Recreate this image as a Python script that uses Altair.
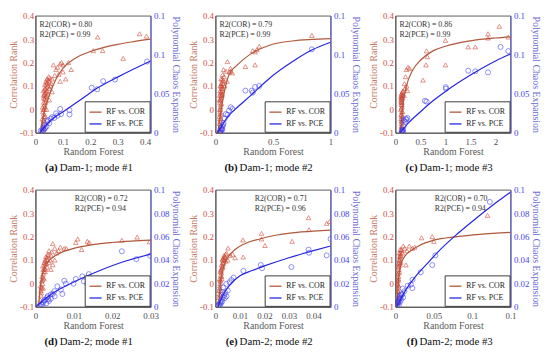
import altair as alt
import pandas as pd

SERIF = "Liberation Serif"
W, H = 117, 119

TRI_COLOR = "#cc3f2c"
CIRC_COLOR = "#3a3af0"
COR_LINE = "#b0583a"
PCE_LINE = "#2525e0"
LEFT_LABEL = "#d04c42"
LEFT_TITLE = "#c47a64"
RIGHT_LABEL = "#4545e8"
RIGHT_TITLE = "#6a6ad8"

SERIES = ["RF vs. COR", "RF vs. PCE"]
LEFT_TICKS = [-0.1, 0, 0.1, 0.2, 0.3, 0.4]
RIGHT_TICKS_TOP = [0, 0.05, 0.1, 0.15]
RIGHT_TICKS_BOTTOM = [0, 0.02, 0.04, 0.06, 0.08, 0.1]

# ---------------- (a) Dam-1; mode #1 ----------------
A_XTICKS = [0, 0.1, 0.2, 0.3, 0.4]
A_COR = [(0.38, 0.323), (0.405, 0.313), (0.227, 0.309), (0.211, 0.251), (0.245, 0.251), (0.32, 0.218),
         (0.065, 0.19), (0.08, 0.18), (0.09, 0.195), (0.095, 0.2), (0.1, 0.19), (0.12, 0.2), (0.13, 0.17),
         (0.075, 0.17), (0.1, 0.16), (0.11, 0.13), (0.085, 0.15), (0.09, 0.12), (0.07, 0.145), (0.06, 0.13),
         (0.06, 0.075), (0.05, 0.12), (0.045, 0.1), (0.04, 0.11), (0.05, 0.09), (0.042, 0.08), (0.035, 0.07),
         (0.04, 0.06), (0.038, 0.04), (0.03, 0.05), (0.033, 0.02), (0.028, 0.0), (0.03, -0.02), (0.025, -0.04),
         (0.027, -0.06), (0.03, 0.03), (0.035, 0.09), (0.045, 0.065), (0.05, 0.04), (0.032, -0.08),
         (0.026, 0.01), (0.04, 0.0), (0.036, -0.03), (0.029, 0.08), (0.055, 0.1), (0.048, 0.14), (0.038, 0.12),
         (0.034, 0.105), (0.042, 0.13), (0.031, 0.065), (0.027, -0.01), (0.029, -0.045), (0.033, 0.045),
         (0.026, -0.09), (0.028, -0.07), (0.03, -0.05), (0.031, -0.03), (0.032, 0.0), (0.034, 0.01),
         (0.036, 0.03), (0.037, 0.055), (0.039, 0.075), (0.041, 0.095), (0.043, 0.115), (0.046, 0.125),
         (0.052, 0.135), (0.058, 0.11), (0.034, 0.085), (0.03, 0.06)]
A_PCE = [(0.407, 0.0913), (0.29, 0.0683), (0.247, 0.0662), (0.205, 0.0578), (0.225, 0.0557), (0.09, 0.0306),
         (0.124, 0.029), (0.124, 0.0235), (0.093, 0.024), (0.068, 0.019), (0.056, 0.018), (0.043, 0.0138),
         (0.033, 0.0096), (0.025, 0.0055), (0.019, 0.0025), (0.08, 0.022), (0.05, 0.012), (0.04, 0.008),
         (0.03, 0.004), (0.022, 0.001), (0.028, 0.002), (0.035, 0.006), (0.045, 0.016), (0.06, 0.02), (0.075, 0.025)]
A_COR_FIT = [(0.018, -0.1), (0.03, -0.02), (0.05, 0.06), (0.075, 0.13), (0.1, 0.175), (0.15, 0.222),
             (0.2, 0.247), (0.25, 0.265), (0.3, 0.278), (0.35, 0.288), (0.42, 0.3)]
A_PCE_FIT = [(0.016, 0.0), (0.056, 0.016), (0.105, 0.028), (0.167, 0.043), (0.229, 0.058), (0.303, 0.072),
             (0.42, 0.092)]

# ---------------- (b) Dam-1; mode #2 ----------------
B_XTICKS = [0, 0.5, 1]
B_COR = [(0.837, 0.316), (0.38, 0.27), (0.324, 0.251), (0.344, 0.246), (0.36, 0.255), (0.344, 0.19),
         (0.26, 0.183), (0.104, 0.204), (0.132, 0.163), (0.146, 0.156), (0.12, 0.16), (0.09, 0.163),
         (0.062, 0.149), (0.07, 0.17), (0.13, 0.175), (0.1, 0.12), (0.08, 0.1), (0.06, 0.12), (0.05, 0.1),
         (0.055, 0.08), (0.045, 0.07), (0.05, 0.05), (0.04, 0.03), (0.045, 0.01), (0.04, -0.01), (0.035, -0.03),
         (0.04, -0.05), (0.045, -0.07), (0.05, 0.11), (0.06, 0.09), (0.055, 0.06), (0.035, 0.04), (0.04, 0.08),
         (0.05, -0.02), (0.038, 0.0), (0.065, 0.11), (0.075, 0.14), (0.048, 0.13), (0.042, -0.085),
         (0.043, 0.045), (0.052, 0.025), (0.047, -0.04), (0.058, 0.065),
         (0.033, -0.09), (0.036, -0.06), (0.038, -0.04), (0.04, -0.02), (0.042, 0.0), (0.044, 0.02),
         (0.046, 0.04), (0.048, 0.06), (0.05, 0.075), (0.052, 0.09), (0.056, 0.1), (0.06, 0.13),
         (0.068, 0.125), (0.037, 0.06), (0.041, 0.1)]
B_PCE = [(0.837, 0.107), (0.38, 0.06), (0.344, 0.0587), (0.315, 0.054), (0.324, 0.0515), (0.26, 0.054),
         (0.132, 0.0327), (0.118, 0.0285), (0.146, 0.0306), (0.09, 0.024), (0.104, 0.023), (0.08, 0.018),
         (0.07, 0.012), (0.06, 0.008), (0.055, 0.005), (0.05, 0.003), (0.045, 0.002), (0.04, 0.001),
         (0.035, 0.0005), (0.065, 0.01), (0.06, 0.004), (0.05, 0.006)]
B_COR_FIT = [(0.02, -0.1), (0.062, 0.037), (0.118, 0.149), (0.19, 0.19), (0.3, 0.235), (0.47, 0.274),
             (0.667, 0.292), (1.0, 0.302)]
B_PCE_FIT = [(0.02, 0.0), (0.104, 0.02), (0.19, 0.0327), (0.3, 0.047), (0.47, 0.07), (0.667, 0.091),
             (0.837, 0.106), (1.0, 0.116)]

# ---------------- (c) Dam-1; mode #3 ----------------
C_XTICKS = [0, 0.5, 1, 1.5, 2]
C_COR = [(2.075, 0.355), (1.85, 0.323), (1.85, 0.305), (2.254, 0.309), (1.454, 0.267), (1.595, 0.267),
         (1.0, 0.295), (1.0, 0.19), (0.62, 0.25), (0.64, 0.225), (0.61, 0.19), (0.55, 0.125),
         (0.22, 0.17), (0.25, 0.18), (0.28, 0.175), (0.2, 0.14), (0.18, 0.11), (0.22, 0.1), (0.24, 0.08),
         (0.15, 0.08), (0.19, 0.09), (0.17, 0.06), (0.12, 0.05), (0.13, 0.03), (0.11, 0.0), (0.12, -0.02),
         (0.13, -0.05), (0.12, -0.07), (0.11, 0.04), (0.14, 0.06), (0.12, 0.02), (0.13, -0.03), (0.11, -0.04),
         (0.12, -0.06), (0.13, 0.01), (0.14, -0.01), (0.12, 0.035), (0.11, 0.055), (0.13, 0.07), (0.12, -0.09),
         (0.115, -0.08), (0.125, -0.075), (0.118, -0.05), (0.128, -0.04), (0.115, -0.025), (0.125, -0.01),
         (0.118, 0.005), (0.128, 0.02), (0.115, 0.03), (0.125, 0.045), (0.135, 0.05), (0.118, 0.065),
         (0.128, 0.06), (0.145, 0.075)]
C_PCE = [(2.1, 0.11), (2.254, 0.1047), (1.454, 0.0796), (1.595, 0.0788), (1.85, 0.0775), (1.005, 0.0585),
         (1.01, 0.0566), (0.589, 0.041), (0.62, 0.04), (0.205, 0.018), (0.237, 0.019), (0.17, 0.016),
         (0.22, 0.017), (0.19, 0.014), (0.16, 0.008), (0.15, 0.004), (0.14, 0.002), (0.13, 0.001),
         (0.12, 0.0005), (0.15, 0.001), (0.14, 0.003)]
C_COR_FIT = [(0.1, -0.1), (0.15, 0.02), (0.22, 0.1), (0.35, 0.17), (0.5, 0.21), (0.75, 0.25), (1.0, 0.27),
             (1.5, 0.293), (2.0, 0.305), (2.3, 0.31)]
C_PCE_FIT = [(0.1, 0.0), (0.25, 0.012), (0.5, 0.027), (0.75, 0.041), (1.0, 0.053), (1.5, 0.074),
             (2.0, 0.092), (2.3, 0.101)]

# ---------------- (d) Dam-2; mode #1 ----------------
D_XTICKS = [0, 0.01, 0.02, 0.03]
D_COR = [(0.0265, 0.198), (0.0225, 0.185), (0.0297, 0.178), (0.014, 0.175), (0.0135, 0.18), (0.011, 0.19),
         (0.0105, 0.175), (0.012, 0.145), (0.0075, 0.15), (0.0065, 0.155), (0.0045, 0.17), (0.005, 0.15),
         (0.0035, 0.14), (0.008, 0.15), (0.006, 0.14), (0.004, 0.12), (0.005, 0.1), (0.003, 0.11),
         (0.0035, 0.09), (0.0045, 0.08), (0.0025, 0.1), (0.003, 0.07), (0.0025, 0.05), (0.002, 0.04),
         (0.0022, 0.02), (0.0018, 0.0), (0.0015, -0.02), (0.0015, -0.04), (0.002, 0.06), (0.0028, 0.085),
         (0.0017, 0.03), (0.0013, -0.01), (0.0055, 0.13), (0.004, 0.06), (0.0032, 0.12),
         (0.0019, 0.075), (0.0023, 0.09), (0.0016, 0.01), (0.0014, -0.05), (0.0027, 0.115), (0.0038, 0.1),
         (0.0012, -0.07), (0.0014, -0.03), (0.0016, -0.015), (0.0018, 0.015), (0.002, 0.025), (0.0021, 0.05),
         (0.0023, 0.065), (0.0024, 0.08), (0.0026, 0.095), (0.003, 0.1), (0.0033, 0.125), (0.0042, 0.135),
         (0.0026, 0.06), (0.002, -0.02)]
D_PCE = [(0.0299, 0.0436), (0.0263, 0.0408), (0.0225, 0.0475), (0.0139, 0.028), (0.0122, 0.026),
         (0.0126, 0.0218), (0.0105, 0.0238), (0.0135, 0.0196), (0.0099, 0.0198), (0.0075, 0.0223),
         (0.0079, 0.0198), (0.0057, 0.0176), (0.0066, 0.0148), (0.0049, 0.0134), (0.004, 0.0106),
         (0.0032, 0.0092), (0.007, 0.011), (0.0025, 0.006), (0.002, 0.004), (0.0015, 0.002), (0.001, 0.001),
         (0.003, 0.008), (0.0035, 0.005), (0.0028, 0.003), (0.0018, 0.0015), (0.004, 0.007), (0.0012, 0.0005),
         (0.005, 0.009), (0.0022, 0.0055), (0.0033, 0.0065), (0.0045, 0.011)]
D_COR_FIT = [(0.0008, -0.1), (0.0012, -0.02), (0.0018, 0.04), (0.0025, 0.075), (0.004, 0.105),
             (0.006, 0.127), (0.01, 0.15), (0.015, 0.166), (0.02, 0.175), (0.025, 0.181), (0.03, 0.185)]
D_PCE_FIT = [(0.0, 0.0), (0.004, 0.0106), (0.0092, 0.02), (0.016, 0.03), (0.0229, 0.0385), (0.03, 0.045)]

# ---------------- (e) Dam-2; mode #2 ----------------
E_XTICKS = [0, 0.01, 0.02, 0.03, 0.04]
E_COR = [(0.038, 0.281), (0.0454, 0.257), (0.0466, 0.265), (0.0382, 0.23), (0.0188, 0.214), (0.0188, 0.19),
         (0.0202, 0.162), (0.0313, 0.18), (0.0112, 0.186), (0.0113, 0.113), (0.0051, 0.151), (0.006, 0.12),
         (0.007, 0.125), (0.008, 0.11), (0.0045, 0.13), (0.004, 0.11), (0.0035, 0.1), (0.003, 0.09),
         (0.0025, 0.08), (0.003, 0.07), (0.002, 0.05), (0.0025, 0.03), (0.002, 0.01), (0.0018, -0.01),
         (0.0015, -0.03), (0.002, -0.05), (0.0022, 0.06), (0.0028, 0.1), (0.0035, 0.12), (0.005, 0.1),
         (0.0017, 0.02), (0.0014, -0.06), (0.0024, 0.045), (0.0019, 0.0), (0.0032, 0.085), (0.0042, 0.095),
         (0.0013, -0.08), (0.0016, -0.045), (0.0017, -0.02), (0.0019, 0.015), (0.0021, 0.035), (0.0023, 0.055),
         (0.0026, 0.065), (0.0028, 0.075), (0.003, 0.105), (0.0033, 0.11), (0.0038, 0.115), (0.0042, 0.125),
         (0.0025, 0.02), (0.0021, -0.03)]
E_PCE = [(0.038, 0.0489), (0.0382, 0.0462), (0.0454, 0.044), (0.047, 0.058), (0.0185, 0.0358), (0.019, 0.033),
         (0.031, 0.034), (0.0114, 0.0307), (0.0074, 0.025), (0.0065, 0.023), (0.0058, 0.021), (0.0044, 0.0196),
         (0.0031, 0.0167), (0.0029, 0.0125), (0.0035, 0.01), (0.003, 0.008), (0.0025, 0.006), (0.002, 0.004),
         (0.0015, 0.002), (0.001, 0.001), (0.004, 0.012), (0.0045, 0.009), (0.0022, 0.003), (0.0018, 0.0015),
         (0.005, 0.014), (0.0027, 0.0045), (0.0038, 0.0075)]
E_COR_FIT = [(0.0012, -0.1), (0.002, 0.0), (0.003, 0.06), (0.005, 0.11), (0.008, 0.145), (0.012, 0.17),
             (0.018, 0.19), (0.025, 0.207), (0.035, 0.22), (0.047, 0.228)]
E_PCE_FIT = [(0.001, 0.0), (0.003, 0.01), (0.006, 0.019), (0.01, 0.0265), (0.015, 0.031), (0.02, 0.035),
             (0.03, 0.042), (0.04, 0.048), (0.047, 0.052)]

# ---------------- (f) Dam-2; mode #3 ----------------
F_XTICKS = [0, 0.05, 0.1, 0.15]
F_COR = [(0.12, 0.291), (0.048, 0.2), (0.034, 0.195), (0.05, 0.18), (0.025, 0.155), (0.022, 0.15),
         (0.018, 0.16), (0.015, 0.14), (0.012, 0.15), (0.01, 0.16), (0.0137, 0.079), (0.008, 0.14),
         (0.007, 0.12), (0.006, 0.11), (0.005, 0.1), (0.006, 0.08), (0.004, 0.07), (0.005, 0.05), (0.004, 0.03),
         (0.003, 0.01), (0.004, -0.01), (0.003, -0.03), (0.0035, -0.05), (0.005, 0.13), (0.007, 0.09),
         (0.0045, 0.06), (0.003, 0.04), (0.0025, 0.0), (0.006, 0.145), (0.009, 0.13),
         (0.0038, 0.02), (0.0042, 0.085), (0.0055, 0.115), (0.0032, -0.02),
         (0.0028, -0.08), (0.003, -0.06), (0.0035, -0.035), (0.0033, -0.005), (0.0036, 0.015), (0.004, 0.045),
         (0.0045, 0.075), (0.005, 0.09), (0.0055, 0.1), (0.006, 0.12), (0.0065, 0.13), (0.0075, 0.145)]
F_PCE = [(0.123, 0.0897), (0.052, 0.044), (0.048, 0.0357), (0.033, 0.0296), (0.0223, 0.0232), (0.02, 0.019),
         (0.016, 0.018), (0.022, 0.016), (0.0116, 0.0134), (0.0094, 0.0156), (0.0073, 0.0106), (0.006, 0.009),
         (0.005, 0.007), (0.004, 0.005), (0.003, 0.003), (0.002, 0.001), (0.008, 0.01), (0.007, 0.006),
         (0.0045, 0.002), (0.0035, 0.004), (0.009, 0.011), (0.01, 0.008), (0.0055, 0.004), (0.0065, 0.0075)]
F_COR_FIT = [(0.002, -0.1), (0.004, 0.02), (0.007, 0.08), (0.012, 0.115), (0.02, 0.14), (0.03, 0.16),
             (0.05, 0.185), (0.08, 0.2), (0.11, 0.21), (0.15, 0.218)]
F_PCE_FIT = [(0.002, 0.0), (0.007, 0.007), (0.015, 0.016), (0.025, 0.025), (0.04, 0.036), (0.06, 0.05),
             (0.08, 0.062), (0.1, 0.073), (0.125, 0.086), (0.15, 0.098)]

PANELS = [
    ("(a)", "Dam-1; mode #1", A_COR, A_PCE, A_COR_FIT, A_PCE_FIT, 0.42, A_XTICKS, 0.15, RIGHT_TICKS_TOP, "0.80", "0.99", 4),
    ("(b)", "Dam-1; mode #2", B_COR, B_PCE, B_COR_FIT, B_PCE_FIT, 1.0, B_XTICKS, 0.15, RIGHT_TICKS_TOP, "0.79", "0.99", 4),
    ("(c)", "Dam-1; mode #3", C_COR, C_PCE, C_COR_FIT, C_PCE_FIT, 2.3, C_XTICKS, 0.15, RIGHT_TICKS_TOP, "0.86", "0.99", 4),
    ("(d)", "Dam-2; mode #1", D_COR, D_PCE, D_COR_FIT, D_PCE_FIT, 0.03, D_XTICKS, 0.1, RIGHT_TICKS_BOTTOM, "0.72", "0.94", 40),
    ("(e)", "Dam-2; mode #2", E_COR, E_PCE, E_COR_FIT, E_PCE_FIT, 0.047, E_XTICKS, 0.1, RIGHT_TICKS_BOTTOM, "0.71", "0.96", 40),
    ("(f)", "Dam-2; mode #3", F_COR, F_PCE, F_COR_FIT, F_PCE_FIT, 0.15, F_XTICKS, 0.1, RIGHT_TICKS_BOTTOM, "0.70", "0.94", 40),
]

HYPHEN = "replace(datum.label, '\u2212', '-')"


def make_panel(letter, caption, cor, pce, cor_fit, pce_fit, xmax, xticks, rmax, rticks, r2c, r2p, r2x):
    xenc = alt.X("x:Q", scale=alt.Scale(domain=[0, xmax], nice=False, zero=False),
                 axis=alt.Axis(values=xticks, format="~g", title="Random Forest", labelOverlap=False,
                               labelFlush=False, labelColor="#4d4d4d", titleColor="#5a5a5a",
                               labelPadding=5, titlePadding=0))
    yl_scale = alt.Scale(domain=[-0.1, 0.4], nice=False, zero=False)
    yl_axis = alt.Axis(values=LEFT_TICKS, format="~g", labelExpr=HYPHEN, title="Correlation Rank",
                       orient="left", labelOverlap=False, labelColor=LEFT_LABEL, titleColor=LEFT_TITLE,
                       labelPadding=2, titlePadding=1, domainColor="#444")
    yr_scale = alt.Scale(domain=[0, rmax], nice=False, zero=False)
    yr_axis = alt.Axis(values=rticks, format="~g", title="Polynomial Chaos Expansion", orient="right",
                       labelOverlap=False, labelColor=RIGHT_LABEL, titleColor=RIGHT_TITLE,
                       labelPadding=3, titlePadding=2, domainColor="#4040d8")
    color = alt.Color("s:N", scale=alt.Scale(domain=SERIES, range=[COR_LINE, PCE_LINE]),
                      legend=alt.Legend(orient="bottom-right", title=None, fillColor="white",
                                        strokeColor="#3a3a3a", padding=4, symbolType="stroke",
                                        symbolSize=150, symbolStrokeWidth=1.3, labelFont=SERIF,
                                        labelFontSize=8, labelColor="#222", rowPadding=1, offset=1))

    cor_df = pd.DataFrame(cor, columns=["x", "y"])
    pce_df = pd.DataFrame(pce, columns=["x", "y"])
    cor_fit_df = pd.DataFrame(cor_fit, columns=["x", "y"]).assign(s=SERIES[0])
    pce_fit_df = pd.DataFrame(pce_fit, columns=["x", "y"]).assign(s=SERIES[1])

    cor_pts = alt.Chart(cor_df).mark_point(shape="triangle-up", filled=False, size=22, strokeWidth=0.8,
                                           color=TRI_COLOR, clip=True).encode(
        x=xenc, y=alt.Y("y:Q", scale=yl_scale, axis=yl_axis))
    cor_line = alt.Chart(cor_fit_df).mark_line(strokeWidth=1.2, clip=True, interpolate="monotone").encode(
        x=xenc, y=alt.Y("y:Q", scale=yl_scale, axis=yl_axis), color=color)
    pce_pts = alt.Chart(pce_df).mark_point(shape="circle", filled=False, size=26, strokeWidth=0.8,
                                           color=CIRC_COLOR, clip=True).encode(
        x=xenc, y=alt.Y("y:Q", scale=yr_scale, axis=yr_axis))
    pce_line = alt.Chart(pce_fit_df).mark_line(strokeWidth=1.2, clip=True, interpolate="monotone").encode(
        x=xenc, y=alt.Y("y:Q", scale=yr_scale, axis=yr_axis), color=color)

    ann1 = pd.DataFrame({"t": ["R2(COR) = " + r2c]})
    ann2 = pd.DataFrame({"t": ["R2(PCE) = " + r2p]})
    r2a = alt.Chart(ann1).mark_text(align="left", baseline="middle", font=SERIF, fontSize=8,
                                    color="#333").encode(x=alt.value(r2x), y=alt.value(9), text="t:N")
    r2b = alt.Chart(ann2).mark_text(align="left", baseline="middle", font=SERIF, fontSize=8,
                                    color="#333").encode(x=alt.value(r2x), y=alt.value(20), text="t:N")

    cap = pd.DataFrame({"l": [letter], "c": [caption]})
    cap_l = alt.Chart(cap).mark_text(align="right", baseline="middle", font=SERIF, fontSize=11,
                                     fontWeight="bold", color="#111").encode(
        x=alt.value(22.5), y=alt.value(155), text="l:N")
    cap_c = alt.Chart(cap).mark_text(align="left", baseline="middle", font=SERIF, fontSize=11,
                                     color="#111").encode(
        x=alt.value(24.5), y=alt.value(155), text="c:N")

    left = alt.layer(cor_pts, cor_line)
    right = alt.layer(pce_pts, pce_line)
    return alt.layer(left, right, r2a, r2b, cap_l, cap_c).resolve_scale(y="independent").properties(
        width=W, height=H)


panels = [make_panel(*p) for p in PANELS]

chart = alt.concat(*panels, columns=3, spacing={"row": 58, "column": 66}, bounds="flush").resolve_scale(
    x="independent", y="independent", color="independent").resolve_legend(color="independent").properties(
    padding={"left": 0, "top": 0, "right": 0, "bottom": 0}).configure_view(
    stroke="#333", strokeWidth=0.8).configure_axis(
    labelFont=SERIF, titleFont=SERIF, labelFontSize=9, titleFontSize=10, titleFontWeight="normal",
    grid=False, ticks=False, domainColor="#444", domainWidth=0.8)

chart.save("out.html", embed_options={"renderer": "svg", "actions": False})
